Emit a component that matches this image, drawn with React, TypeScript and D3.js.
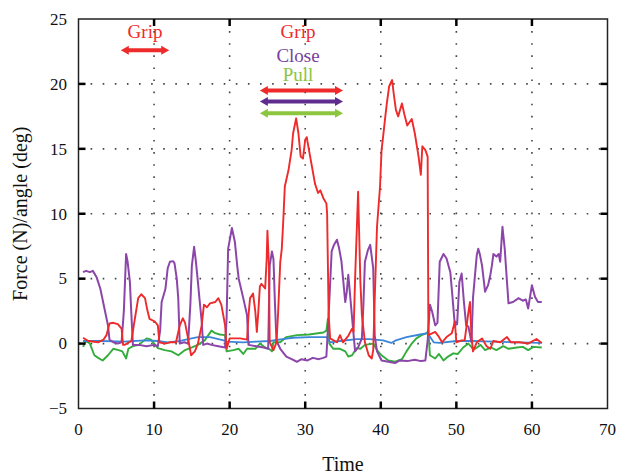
import React from "react";
import * as d3 from "d3";

const xTicks = [0, 10, 20, 30, 40, 50, 60, 70];
const yTicks = [-5, 0, 5, 10, 15, 20, 25];

const gripForce: [number, number][] = [
  [0.6,0.45],[1.3,0.2],[2.6,0.1],[3.3,0.3],[3.7,0.65],[4.1,1.55],[4.6,1.6],[5.2,1.5],[5.7,1.15],[5.9,-0.1],[6.1,-0.1],[7.0,0.2],[7.4,1.7],[7.9,3.5],[8.3,3.8],[8.8,3.5],[9.1,2.6],[9.4,1.9],[10.1,1.7],[10.5,1.4],[10.7,0.1],[11.4,0.0],[12.2,0.1],[12.9,0.1],[13.4,1.4],[13.8,1.95],[14.1,1.6],[14.5,0.4],[14.9,-0.9],[15.4,-0.6],[15.8,0.0],[16.3,1.4],[16.6,3.0],[17.0,2.8],[17.4,3.1],[18.1,3.2],[18.5,3.5],[18.9,3.0],[19.4,1.4],[19.6,-0.4],[20.0,0.4],[21.4,0.4],[22.3,0.3],[22.5,2.2],[22.7,3.5],[23.1,3.85],[23.4,2.45],[23.6,0.9],[23.8,2.5],[24.0,4.4],[24.2,4.6],[24.7,4.25],[24.9,6.5],[25.0,8.7],[25.2,6.0],[25.3,0.1],[25.8,-0.5],[26.2,0.1],[26.4,2.2],[26.7,6.3],[26.9,7.3],[27.1,9.5],[27.3,12.1],[27.8,13.4],[28.2,14.9],[28.4,16.2],[28.8,17.35],[29.1,16.2],[29.4,14.4],[29.7,14.25],[30.0,15.7],[30.2,15.9],[30.5,14.9],[30.9,13.6],[31.3,12.3],[31.7,11.6],[32.0,11.8],[32.4,11.2],[32.8,10.8],[32.9,10.0],[33.1,2.2],[33.3,0.4],[34.2,0.1],[34.6,0.65],[35.0,0.1],[35.7,0.6],[36.2,1.15],[36.4,0.9],[36.6,5.0],[37.0,11.7],[37.3,4.75],[37.5,2.2],[37.9,0.1],[38.4,-0.9],[38.8,-1.15],[39.0,-0.5],[39.2,3.5],[39.5,9.0],[39.9,12.1],[40.1,14.9],[40.3,15.9],[40.6,17.5],[40.8,18.5],[41.1,19.8],[41.5,20.3],[41.7,19.3],[42.0,18.0],[42.3,17.5],[42.8,18.5],[43.1,17.7],[43.5,16.8],[44.1,17.3],[44.5,16.2],[45.0,14.4],[45.3,13.0],[45.5,15.2],[45.9,14.9],[46.2,14.4],[46.3,0.65],[47.2,0.9],[47.6,0.6],[48.1,0.1],[48.7,0.5],[49.4,0.8],[49.8,1.7],[50.0,0.1],[50.7,0.25],[51.1,0.25],[51.6,2.45],[51.8,3.2],[52.0,0.6],[52.2,-0.6],[52.7,0.1],[53.4,0.4],[54.0,-0.2],[54.5,-0.4],[54.9,0.2],[55.8,0.1],[56.7,0.5],[57.2,0.1],[58.4,0.1],[59.5,0.0],[60.6,0.35],[61.3,0.05]
];

const closeAngle: [number, number][] = [
  [0.6,5.5],[1.0,5.6],[1.5,5.5],[1.9,5.6],[2.4,5.1],[2.9,4.2],[3.4,2.8],[3.9,1.4],[4.1,0.3],[4.6,0.1],[5.2,0.0],[5.7,0.1],[6.0,2.5],[6.3,6.9],[6.5,6.3],[6.8,4.75],[7.0,2.2],[7.2,-0.1],[8.0,-0.1],[9.0,-0.2],[10.0,-0.1],[10.5,-0.2],[10.8,1.0],[11.0,3.2],[11.5,4.2],[11.8,5.8],[12.1,6.3],[12.5,6.35],[12.7,6.2],[13.0,5.0],[13.2,3.5],[13.4,0.0],[14.0,0.1],[14.5,0.0],[14.8,3.0],[15.0,6.0],[15.3,7.45],[15.5,6.5],[15.8,4.75],[16.0,3.5],[16.3,1.7],[16.5,-0.1],[17.0,0.0],[17.6,-0.1],[18.5,-0.2],[19.4,-0.3],[19.6,2.0],[19.8,7.3],[20.3,8.9],[20.7,7.8],[21.0,6.0],[21.2,5.0],[21.8,3.5],[22.3,2.2],[22.5,-0.1],[23.5,-0.2],[24.5,-0.3],[25.1,-0.4],[25.3,6.0],[25.6,7.1],[25.8,6.5],[26.0,3.0],[26.2,0.2],[26.7,-0.4],[27.5,-1.0],[28.2,-1.2],[28.9,-1.4],[29.5,-1.2],[30.3,-1.3],[31.0,-1.1],[31.8,-1.2],[32.4,-1.1],[32.8,-1.0],[33.1,2.2],[33.5,7.1],[33.8,7.6],[34.2,8.0],[34.5,7.3],[34.8,6.3],[35.3,3.2],[35.5,4.0],[35.7,5.3],[35.9,4.0],[36.2,2.0],[36.6,-0.6],[37.0,-0.3],[37.5,0.4],[37.7,3.0],[37.9,6.3],[38.3,7.2],[38.6,7.6],[39.0,5.8],[39.2,0.6],[39.5,-0.6],[40.1,-1.3],[41.0,-1.4],[41.9,-1.5],[42.5,-1.3],[43.5,-1.35],[44.5,-1.25],[45.3,-1.35],[45.9,-1.3],[46.2,0.2],[46.5,3.0],[46.8,2.45],[47.2,1.4],[47.5,1.6],[47.8,6.3],[48.3,6.9],[48.7,6.55],[49.2,5.5],[49.5,3.5],[49.8,1.4],[50.1,1.5],[50.4,4.75],[50.7,5.4],[51.0,3.2],[51.3,1.4],[51.6,1.3],[52.0,0.1],[52.2,3.5],[52.5,5.5],[52.7,6.8],[52.9,7.3],[53.1,6.9],[53.4,6.0],[53.8,4.0],[54.2,4.5],[54.5,5.3],[54.7,6.0],[54.9,6.9],[55.3,6.7],[55.6,6.9],[55.8,6.3],[56.1,9.0],[56.4,7.3],[56.7,4.75],[56.9,3.1],[57.5,3.2],[58.0,3.4],[58.2,3.5],[58.8,3.3],[59.2,3.4],[59.5,2.7],[60.0,4.5],[60.4,3.6],[60.8,3.2],[61.3,3.2]
];

const pullForce: [number, number][] = [
  [0.6,-0.25],[1.0,0.2],[1.5,0.0],[2.1,-0.9],[2.6,-1.1],[3.2,-1.3],[3.9,-0.9],[4.6,-0.4],[5.3,-0.5],[5.8,-0.6],[6.3,-1.15],[6.6,-0.4],[7.2,-0.2],[8.0,-0.1],[9.0,0.4],[9.6,0.3],[10.5,-0.35],[11.4,-0.5],[12.3,-0.6],[13.2,-0.9],[14.1,-0.5],[15.0,-0.3],[15.8,-0.1],[16.7,0.25],[17.6,1.0],[18.1,0.8],[18.7,0.7],[19.4,0.65],[19.6,-0.6],[20.5,-0.5],[21.2,-0.4],[21.8,-0.8],[22.3,-0.4],[23.4,-0.4],[24.0,0.0],[24.7,-0.3],[25.2,-0.4],[25.6,-0.6],[25.8,0.1],[26.7,0.1],[27.5,0.5],[28.9,0.65],[30.5,0.7],[32.4,0.85],[32.8,1.0],[33.0,1.9],[33.2,0.0],[33.7,-0.4],[34.6,-0.4],[35.3,-0.6],[35.7,-1.0],[36.2,-0.9],[36.8,-0.35],[37.3,-0.4],[37.9,-0.1],[39.0,0.0],[39.5,-0.5],[40.1,-0.9],[41.0,-1.3],[41.9,-1.4],[42.8,-1.2],[43.4,-0.6],[44.1,0.0],[44.7,0.4],[45.4,0.65],[46.1,0.8],[46.3,1.0],[46.5,-0.9],[47.2,-1.15],[47.7,-0.8],[48.3,-1.3],[48.9,-1.0],[49.6,-0.75],[50.2,-0.8],[50.9,-0.3],[51.6,0.0],[52.2,-0.4],[52.5,-0.4],[53.2,-0.1],[53.8,-0.5],[54.6,-0.3],[55.3,-0.5],[56.2,-0.2],[56.9,-0.4],[58.0,-0.3],[58.8,-0.25],[59.5,-0.5],[60.2,-0.25],[61.3,-0.3]
];

const baseSignal: [number, number][] = [
  [0.6,0.2],[3.0,0.2],[6.0,0.15],[8.8,0.25],[10.5,0.2],[11.8,0.1],[13.5,0.2],[14.5,0.35],[15.8,0.5],[17.4,0.5],[19.2,0.25],[19.6,0.15],[21.8,0.1],[23.5,0.15],[25.3,0.2],[27.0,0.35],[28.4,0.45],[30.6,0.5],[32.8,0.5],[33.3,0.1],[34.6,0.2],[36.8,0.35],[38.5,0.35],[40.3,0.25],[41.4,0.05],[42.0,0.25],[43.4,0.5],[45.2,0.7],[46.2,0.8],[47.0,0.1],[47.8,0.05],[50.0,0.2],[52.0,0.2],[55.0,0.15],[58.0,0.1],[61.3,0.05]
];

const phaseLabels = ["Grip", "Grip", "Close", "Pull"];
const phaseLabelX = [8.8, 29.05, 29.05, 29.05];
const phaseLabelY = [23.55, 23.55, 21.7, 20.2];
const phaseArrowStart = [5.6, 24.0, 24.0, 24.0];
const phaseArrowEnd = [12.0, 35.0, 35.0, 35.0];
const phaseArrowY = [22.6, 19.5, 18.65, 17.75];
const phaseTextColors = ["#ee2a2a", "#ee2a2a", "#7a3f9d", "#8cc63f"];
const phaseArrowColors = ["#ee2a2a", "#ee2a2a", "#5e2d8e", "#8cc63f"];

const W = 635, H = 475;
const left = 78.5, right = 607.5, top = 19, bottom = 408.5;
const FONT = "'Liberation Serif', 'Times New Roman', serif";

export default function App() {
  const x = d3.scaleLinear().domain([0, 70]).range([left, right]);
  const y = d3.scaleLinear().domain([-5, 25]).range([bottom, top]);
  const line = d3.line<[number, number]>().x(d => x(d[0])).y(d => y(d[1]));

  const arrow = (x1: number, x2: number, yy: number, color: string, key: string) => {
    const hl = 8, hw = 4.5, lw = 2;
    return (
      <g key={key}>
        <path d={`M${x1 + hl - 1},${yy - lw}L${x2 - hl + 1},${yy - lw}L${x2 - hl + 1},${yy + lw}L${x1 + hl - 1},${yy + lw}Z`} fill={color} />
        <path d={`M${x1},${yy}L${x1 + hl},${yy - hw}L${x1 + hl},${yy + hw}Z`} fill={color} />
        <path d={`M${x2},${yy}L${x2 - hl},${yy - hw}L${x2 - hl},${yy + hw}Z`} fill={color} />
      </g>
    );
  };

  return (
    <svg width={W} height={H} style={{ position: "absolute", left: 0, top: 0, background: "#fff" }} fontFamily={FONT}>
      <rect x={0} y={0} width={W} height={H} fill="#fff" />
      {xTicks.filter(t => t > 0 && t < 70).map(t => (
        <line key={"gx" + t} x1={x(t)} x2={x(t)} y1={top} y2={bottom} stroke="#444" strokeWidth={1.6} strokeDasharray="1.6,10.5" />
      ))}
      {yTicks.filter(t => t > -5 && t < 25).map(t => (
        <line key={"gy" + t} x1={left} x2={right} y1={y(t)} y2={y(t)} stroke="#444" strokeWidth={1.6} strokeDasharray="1.6,10.5" />
      ))}
      <path d={line(pullForce)!} fill="none" stroke="#34ad3c" strokeWidth={1.9} strokeLinejoin="round" />
      <path d={line(baseSignal)!} fill="none" stroke="#3a86d8" strokeWidth={1.8} strokeLinejoin="round" />
      <path d={line(closeAngle)!} fill="none" stroke="#8c46aa" strokeWidth={2} strokeLinejoin="round" />
      <path d={line(gripForce)!} fill="none" stroke="#ee2a2a" strokeWidth={1.9} strokeLinejoin="round" />
      <rect x={left} y={top} width={right - left} height={bottom - top} fill="none" stroke="#222" strokeWidth={1.5} />
      {xTicks.filter(t => t > 0 && t < 70).map(t => (
        <g key={"tx" + t}>
          <line x1={x(t)} x2={x(t)} y1={bottom} y2={bottom - 7} stroke="#000" strokeWidth={2.5} />
          <line x1={x(t)} x2={x(t)} y1={top} y2={top + 7} stroke="#000" strokeWidth={2.5} />
        </g>
      ))}
      {yTicks.filter(t => t > -5 && t < 25).map(t => (
        <g key={"ty" + t}>
          <line x1={left} x2={left + 7} y1={y(t)} y2={y(t)} stroke="#000" strokeWidth={2.5} />
          <line x1={right} x2={right - 7} y1={y(t)} y2={y(t)} stroke="#000" strokeWidth={2.5} />
        </g>
      ))}
      {xTicks.map(t => (
        <text key={"lx" + t} x={x(t)} y={435} textAnchor="middle" fontSize={17} fill="#111">{t}</text>
      ))}
      {yTicks.map(t => (
        <text key={"ly" + t} x={67} y={y(t) + 5.8} textAnchor="end" fontSize={17} fill="#111">{t < 0 ? "\u2212" + Math.abs(t) : t}</text>
      ))}
      <text x={(left + right) / 2} y={471} textAnchor="middle" fontSize={20} fill="#111">Time</text>
      <text transform={`translate(27,${(top + bottom) / 2}) rotate(-90)`} textAnchor="middle" fontSize={20} fill="#111">Force (N)/angle (deg)</text>
      {phaseLabels.map((lab, i) => (
        <text key={"pl" + i} x={x(phaseLabelX[i])} y={y(phaseLabelY[i])} textAnchor="middle" fontSize={19} fill={phaseTextColors[i]}>{lab}</text>
      ))}
      {phaseLabels.map((lab, i) => arrow(x(phaseArrowStart[i]), x(phaseArrowEnd[i]), y(phaseArrowY[i]), phaseArrowColors[i], "pa" + i))}
    </svg>
  );
}
